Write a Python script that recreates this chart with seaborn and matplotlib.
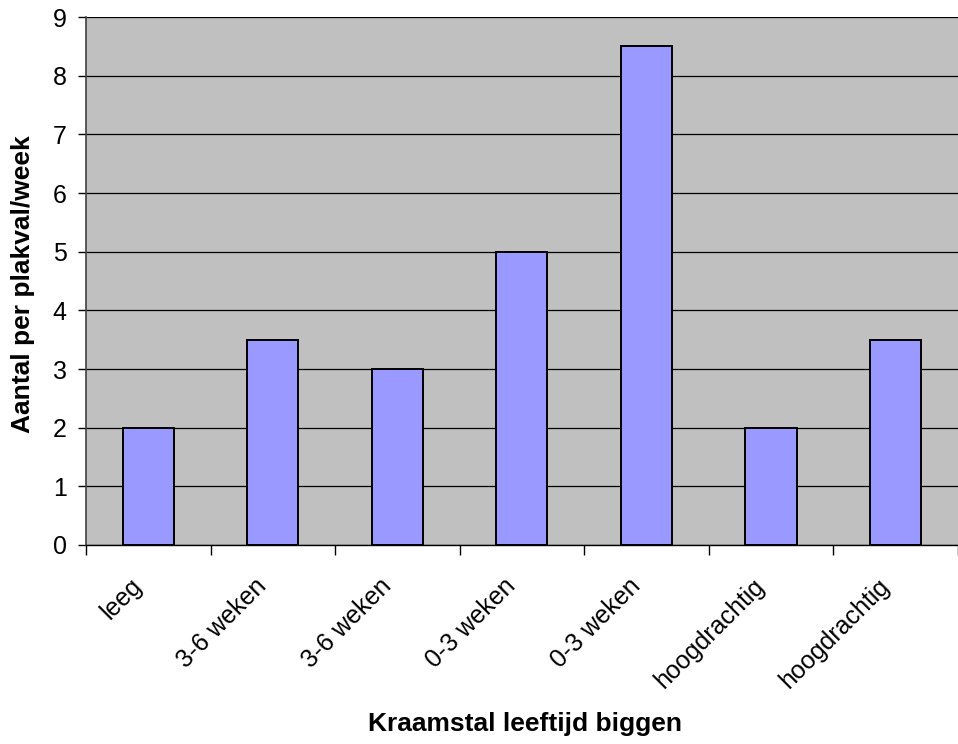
import matplotlib
matplotlib.use("Agg")
import matplotlib.pyplot as plt
import matplotlib.transforms as mtransforms
import seaborn as sns
import pandas as pd
import numpy as np

categories = ["leeg", "3-6 weken", "3-6 weken", "0-3 weken", "0-3 weken", "hoogdrachtig", "hoogdrachtig"]
values = [2, 3.5, 3, 5, 8.5, 2, 3.5]
y_ticks = list(range(0, 10))

sns.set_style("white")
plt.rcParams['font.family'] = ['Liberation Sans', 'DejaVu Sans']
plt.rcParams['text.color'] = 'black'
plt.rcParams['axes.labelcolor'] = 'black'
plt.rcParams['xtick.color'] = 'black'
plt.rcParams['ytick.color'] = 'black'

df = pd.DataFrame({"pos": [str(i) for i in range(len(categories))], "val": values})

fig = plt.figure(figsize=(9.58, 7.44), dpi=100)
ax = fig.add_axes([0.0898, 0.2675, 0.910, 0.7095])
ax.set_facecolor("#C0C0C0")
ax.set_axisbelow(True)
ax.yaxis.grid(True, color="black", linewidth=0.9)

sns.barplot(data=df, x="pos", y="val", ax=ax, color="#9999FF", width=0.41,
            edgecolor="black", linewidth=1.4, saturation=1)

n = len(categories)
ax.set_xlim(-0.5, n - 0.5)
ax.set_ylim(0, 9)
ax.set_yticks(y_ticks)
ax.set_yticklabels([str(v) for v in y_ticks], fontsize=18)

ax.set_xticks(np.arange(n))
ax.set_xticklabels(categories, rotation=45, ha="right", va="center",
                   rotation_mode="anchor", fontsize=18)
ax.tick_params(axis="x", which="major", bottom=False, length=0, pad=27)
offset = mtransforms.ScaledTranslation(-10 / 100, 0, fig.dpi_scale_trans)
for lbl in ax.get_xticklabels():
    lbl.set_transform(lbl.get_transform() + offset)
ax.set_xticks(np.arange(n + 1) - 0.5, minor=True)
ax.tick_params(axis="x", which="minor", bottom=True, length=7, width=1.0, color="black", direction="out")
ax.tick_params(axis="y", left=True, length=6, width=1.0, color="black", direction="out", pad=8)

for s in ["top", "right"]:
    ax.spines[s].set_visible(False)
ax.spines["left"].set_color("#404040")
ax.spines["left"].set_linewidth(1.2)
ax.spines["bottom"].set_color("black")
ax.spines["bottom"].set_linewidth(1.0)

ax.set_xlabel("Kraamstal leeftijd biggen", fontsize=19, fontweight="bold")
ax.xaxis.set_label_coords(0.503, -0.316)
ax.set_ylabel("Aantal per plakval/week", fontsize=19, fontweight="bold")
ax.yaxis.set_label_coords(-0.0585, 0.495)

fig.savefig("out.png", dpi=100)
